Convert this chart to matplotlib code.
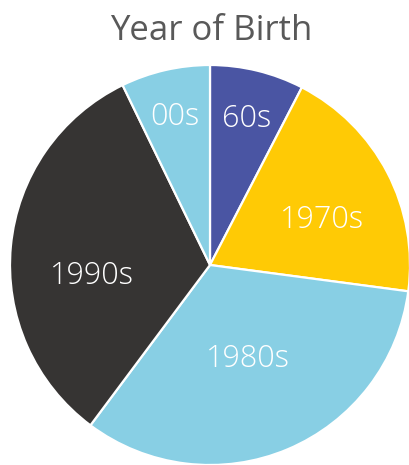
import numpy as np
import matplotlib
matplotlib.use("Agg")
import matplotlib.pyplot as plt

labels = ["60s", "1970s", "1980s", "1990s", "00s"]
values = [7.6, 19.5, 33.1, 32.6, 7.2]
colors = ["#4a55a3", "#ffca05", "#88cfe4", "#363433", "#88cfe4"]
label_r = [0.77, 0.61, 0.49, 0.59, 0.78]
label_shift = [0, -4, 0, 9, 0]

plt.rcParams['font.family'] = ['Open Sans', 'DejaVu Sans']

fig = plt.figure(figsize=(4.10, 4.65), dpi=100)
ax = fig.add_axes([10/410, 0/465, 400/410, 400/465])
wedges, _ = ax.pie(values, colors=colors, startangle=90, counterclock=False,
                   wedgeprops=dict(edgecolor="white", linewidth=1.6), radius=1.0)
ax.set_xlim(-1, 1)
ax.set_ylim(-1, 1)
ax.set_aspect('equal')

for w, lab, r, s in zip(wedges, labels, label_r, label_shift):
    ang = np.deg2rad((w.theta1 + w.theta2) / 2 + s)
    ax.text(r * np.cos(ang), r * np.sin(ang), lab, ha='center', va='center_baseline',
            color='white', fontsize=22, fontweight='light')

fig.text(211/410, 1 - 27/465, "Year of Birth", ha='center', va='center_baseline',
         color='#595959', fontsize=25, fontweight='normal')

fig.savefig("out.png", dpi=100)
